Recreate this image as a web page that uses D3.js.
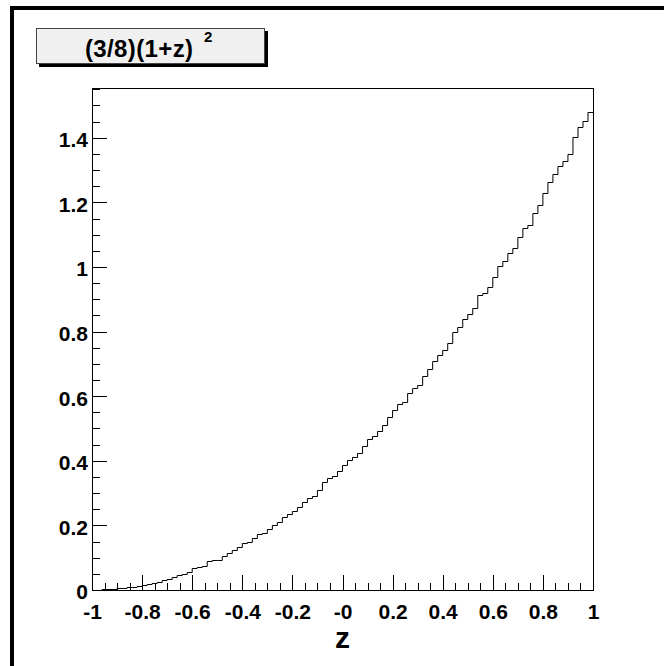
<!DOCTYPE html>
<html>
<head>
<meta charset="utf-8">
<script src="https://cdn.jsdelivr.net/npm/d3@7"></script>
<style>
    body { margin: 0; background: #fff; }
    svg { display: block; }
    text { font-family: "Liberation Sans", Arial, sans-serif; font-weight: bold; fill: #000; }
</style>
</head>
<body>
<svg id="chart" width="664" height="666"></svg>
<script>
// histogram range and bin contents (100 bins from -1 to 1)
const xRange = [-1, 1];
const yMax = 1.554;
const binValues = [
    0.000, 0.001, 0.002, 0.003, 0.003, 0.005, 0.007, 0.008, 0.010, 0.013,
    0.016, 0.019, 0.022, 0.025, 0.030, 0.035, 0.040, 0.045, 0.050, 0.057,
    0.067, 0.070, 0.075, 0.091, 0.094, 0.094, 0.105, 0.116, 0.124, 0.134,
    0.144, 0.150, 0.160, 0.172, 0.177, 0.188, 0.200, 0.211, 0.225, 0.235,
    0.246, 0.257, 0.273, 0.285, 0.292, 0.311, 0.334, 0.346, 0.352, 0.367,
    0.386, 0.403, 0.411, 0.424, 0.445, 0.468, 0.476, 0.491, 0.512, 0.537,
    0.557, 0.575, 0.583, 0.611, 0.624, 0.635, 0.663, 0.683, 0.710, 0.728,
    0.743, 0.766, 0.798, 0.815, 0.839, 0.854, 0.872, 0.913, 0.920, 0.939,
    0.968, 1.003, 1.020, 1.044, 1.058, 1.094, 1.122, 1.130, 1.168, 1.193,
    1.230, 1.262, 1.288, 1.313, 1.328, 1.349, 1.402, 1.432, 1.453, 1.479
];
const xMajorTicks = [-1, -0.8, -0.6, -0.4, -0.2, 0, 0.2, 0.4, 0.6, 0.8, 1];
const xTickLabels = ["-1", "-0.8", "-0.6", "-0.4", "-0.2", "-0", "0.2", "0.4", "0.6", "0.8", "1"];
const yMajorTicks = [0, 0.2, 0.4, 0.6, 0.8, 1, 1.2, 1.4];
const yTickLabels = ["0", "0.2", "0.4", "0.6", "0.8", "1", "1.2", "1.4"];
const titleText = "(3/8)(1+z)";
const titleExp = "2";
const xTitle = "z";

const svg = d3.select("#chart");
const margin = { top: 88, right: 71, bottom: 76, left: 92 };
const width = 664, height = 666;

/***
 * Canvas border (ROOT sunken style: only top/left dark)
 */
svg.append("rect").attr("x", 10).attr("y", 6).attr("width", 4).attr("height", height - 6).attr("fill", "#000");
svg.append("rect").attr("x", 10).attr("y", 6).attr("width", width - 10).attr("height", 4).attr("fill", "#000");

/***
 * Scales
 */
const x = d3.scaleLinear().domain(xRange).range([margin.left, width - margin.right]);
const y = d3.scaleLinear().domain([0, yMax]).range([height - margin.bottom, margin.top]);

// minor ticks every 0.05
const xMinor = d3.range(-1, 1.0001, 0.05).map(d => +d.toFixed(2)).filter(d => !xMajorTicks.some(m => Math.abs(m - d) < 1e-6));
const yMinor = d3.range(0, yMax, 0.05).map(d => +d.toFixed(2)).filter(d => !yMajorTicks.some(m => Math.abs(m - d) < 1e-6));

const axisG = svg.append("g").attr("class", "axes");

axisG.append("g")
    .attr("transform", "translate(0," + y(0) + ")")
    .call(d3.axisBottom(x).tickValues(xMinor).tickSize(-7).tickFormat(""))
    .call(g => g.select(".domain").remove());

axisG.append("g")
    .attr("transform", "translate(0," + y(0) + ")")
    .call(d3.axisBottom(x).tickValues(xMajorTicks).tickSize(-15).tickPadding(14)
        .tickFormat((d, i) => xTickLabels[i]))
    .call(g => g.select(".domain").remove())
    .selectAll("text")
    .attr("font-size", 21)
    .attr("font-family", null);

axisG.append("g")
    .attr("transform", "translate(" + x(-1) + ",0)")
    .call(d3.axisLeft(y).tickValues(yMinor).tickSize(-8).tickFormat(""))
    .call(g => g.select(".domain").remove());

axisG.append("g")
    .attr("transform", "translate(" + x(-1) + ",0)")
    .call(d3.axisLeft(y).tickValues(yMajorTicks).tickSize(-15).tickPadding(4)
        .tickFormat((d, i) => yTickLabels[i]))
    .call(g => g.select(".domain").remove())
    .selectAll("text")
    .attr("font-size", 21)
    .attr("font-family", null)
    .attr("dy", "0.42em");

axisG.selectAll("line").attr("stroke", "#000").attr("shape-rendering", "crispEdges");

/***
 * Frame
 */
svg.append("rect")
    .attr("x", x(-1) + 0.5)
    .attr("y", y(yMax) + 0.5)
    .attr("width", x(1) - x(-1))
    .attr("height", y(0) - y(yMax))
    .attr("fill", "none")
    .attr("stroke", "#000")
    .attr("stroke-width", 1)
    .attr("shape-rendering", "crispEdges");

/***
 * Histogram as steps
 */
const nBins = binValues.length;
const binW = (xRange[1] - xRange[0]) / nBins;
const pts = [];
binValues.forEach((v, i) => {
    pts.push([xRange[0] + i * binW, v]);
    pts.push([xRange[0] + (i + 1) * binW, v]);
});
svg.append("path")
    .datum(pts)
    .attr("fill", "none")
    .attr("stroke", "#000")
    .attr("stroke-width", 1)
    .attr("d", d3.line().x(d => x(d[0])).y(d => Math.round(y(d[1])) + 0.5));

/***
 * Axis title
 */
svg.append("text")
    .attr("x", (x(-1) + x(1)) / 2)
    .attr("y", 648)
    .attr("text-anchor", "middle")
    .attr("font-size", 30)
    .text(xTitle);

/***
 * Title box with shadow
 */
const tb = svg.append("g").attr("class", "title");
tb.append("rect").attr("x", 39).attr("y", 31).attr("width", 229).attr("height", 36).attr("fill", "#000");
tb.append("rect").attr("x", 36.5).attr("y", 28.5).attr("width", 228).attr("height", 35)
    .attr("fill", "#f0f0f0").attr("stroke", "#444").attr("stroke-width", 1);
tb.append("text")
    .attr("x", 85)
    .attr("y", 57)
    .attr("font-size", 24)
    .attr("textLength", 108)
    .attr("lengthAdjust", "spacing")
    .text(titleText);
tb.append("text")
    .attr("x", 204)
    .attr("y", 42)
    .attr("font-size", 15)
    .text(titleExp);
</script>
</body>
</html>
